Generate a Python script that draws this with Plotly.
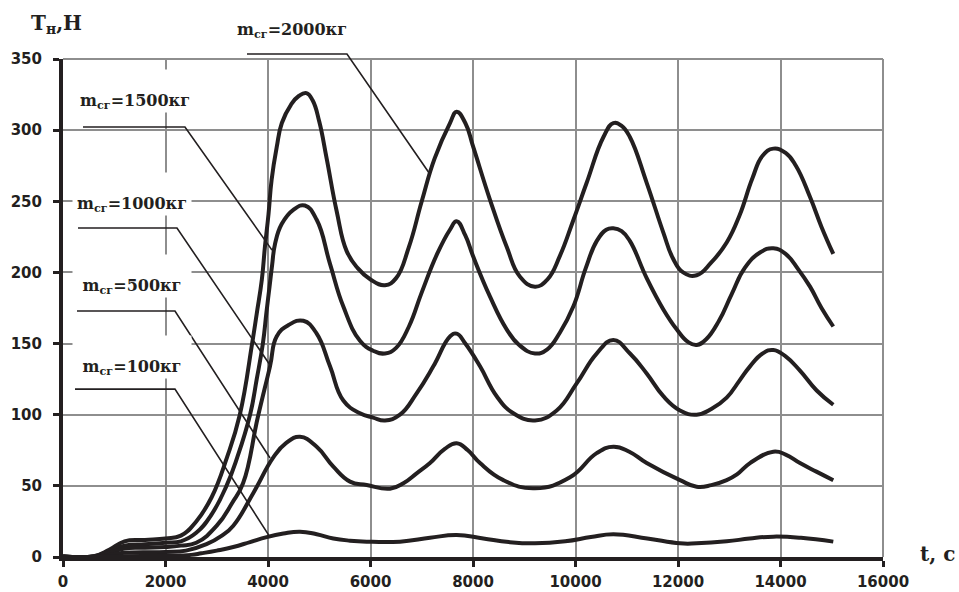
import plotly.graph_objects as go

# ---------------- data ----------------
t_2000 = [0, 600, 900, 1200, 1600, 2000, 2300, 2600, 2900, 3200, 3450, 3690, 3780, 3880, 3940, 4010,
          4070, 4170, 4270, 4450, 4600, 4750, 4870, 5000, 5145, 5340, 5535, 5750, 6000, 6283, 6500, 6750,
          7000, 7250, 7551, 7681, 7850, 8006, 8332, 8657, 8917, 9210, 9450, 9700, 9950, 10218, 10543,
          10738, 10900, 11063, 11389, 11714, 11900, 12100, 12364, 12650, 12950, 13200, 13450, 13650,
          13860, 14100, 14300, 14576, 14800, 15030]
v_2000 = [0.5, 0.5, 5, 11, 12, 13, 15, 25, 42, 70, 100, 150, 171, 195, 218, 241,
          265, 288, 305, 318, 324, 326, 321, 306, 280, 243, 215, 203, 195, 191, 196, 218,
          250, 280, 305, 313, 305, 288, 251, 218, 197, 190, 195, 212, 236, 263, 295,
          305, 303, 295, 263, 228, 210, 200, 198, 207, 221, 240, 266, 282,
          287, 284, 275, 253, 232, 213]

t_1500 = [0, 600, 900, 1200, 1600, 2000, 2300, 2600, 2900, 3190, 3400, 3650, 3780, 3900, 3970, 4030,
          4080, 4137, 4267, 4494, 4720, 4950, 5210, 5470, 5795, 6050, 6283, 6500, 6750, 7000, 7300,
          7550, 7681, 7850, 8006, 8332, 8657, 8900, 9210, 9450, 9700, 9957, 10200, 10413, 10600,
          10738, 10900, 11063, 11389, 11714, 11974, 12200, 12364, 12550, 12800, 13050, 13300, 13600,
          13860, 14100, 14350, 14576, 14800, 15030]
v_1500 = [0.4, 0.4, 4, 8, 9, 10, 11, 17, 30, 50, 70, 100, 125, 150, 172, 190,
          205, 220, 234, 244, 247, 237, 206, 176, 152, 145, 143, 147, 162, 186, 213,
          230, 236, 226, 211, 183, 160, 149, 143, 146, 158, 176, 203, 222, 230,
          231, 229, 222, 196, 174, 160, 151, 149, 153, 166, 185, 203, 214,
          217, 213, 202, 190, 175, 162]

t_1000 = [0, 600, 900, 1200, 1600, 2000, 2300, 2600, 3000, 3300, 3515, 3800, 4039, 4169, 4400, 4690,
          4950, 5210, 5470, 5795, 6050, 6283, 6575, 6900, 7226, 7551, 7681, 7850, 8137, 8462, 8787,
          9210, 9633, 10023, 10413, 10738, 11063, 11389, 11714, 12039, 12364, 12650, 12950, 13200,
          13405, 13650, 13860, 14100, 14380, 14706, 15030]
v_1000 = [0.3, 0.3, 3, 6, 6.5, 7, 8, 10, 22, 38, 52, 98, 134, 155, 163, 166,
          157, 134, 110, 101, 98, 96, 100, 115, 134, 155, 157, 150, 134, 113, 101,
          96, 103, 122, 143, 152.5, 143, 129, 113, 103, 100, 104, 112, 124,
          134, 143, 145.5, 141, 131, 117, 107]

t_500 = [0, 600, 900, 1200, 2000, 2400, 2800, 3100, 3323, 3714, 4104, 4350, 4624, 4950, 5275, 5600,
         5925, 6381, 6650, 6900, 7161, 7450, 7681, 7900, 8137, 8592, 9210, 9893, 10413, 10738,
         11050, 11389, 12039, 12364, 12650, 12950, 13150, 13405, 13860, 14100, 14380, 14700, 15030]
v_500 = [0.2, 0.2, 1.5, 3, 3.5, 4.5, 9, 15, 22, 45, 70, 80, 84.5, 77.5, 63.5, 53,
         50.6, 48, 52, 58.8, 66, 76, 80, 75, 66, 54, 48.3, 56, 73, 77.5,
         74, 66, 54, 49.4, 50.5, 54, 58, 66, 74, 72, 66, 60, 54]

t_100 = [0, 600, 900, 1200, 2000, 2500, 2700, 3000, 3323, 3650, 3975, 4300, 4624, 4950, 5275, 5600,
         5925, 6575, 7161, 7681, 8200, 8700, 9210, 9800, 10300, 10738, 11400, 12039, 12364, 12950,
         13400, 13860, 14400, 15030]
v_100 = [0, 0, 0.3, 0.6, 0.8, 1.5, 2.6, 4.5, 7, 10.5, 14, 16.5, 17.8, 16, 13, 11.5,
         10.8, 10.8, 13.5, 15.5, 13, 10.5, 9.6, 11, 14, 16, 13, 9.6, 9.6, 11,
         13, 14.3, 13.5, 10.8]

series_names = ["2000", "1500", "1000", "500", "100"]
series_t = [t_2000, t_1500, t_1000, t_500, t_100]
series_v = [v_2000, v_1500, v_1000, v_500, v_100]

x_ticks = [0, 2000, 4000, 6000, 8000, 10000, 12000, 14000, 16000]
y_ticks = [0, 50, 100, 150, 200, 250, 300, 350]
X_MAX, Y_MAX = 16000, 350

# ---------------- figure ----------------
CURVE = "#231f20"
GRID = "#8e8e8e"

fig = go.Figure()
for name, t, v in zip(series_names, series_t, series_v):
    fig.add_trace(go.Scatter(x=t, y=v, mode="lines", name=name,
                             line=dict(color=CURVE, width=4, shape="spline", smoothing=1.3),
                             hoverinfo="skip", showlegend=False))

tickfont = dict(family="DejaVu Sans", size=15, color=CURVE, weight="bold")

fig.update_layout(
    width=959, height=592,
    margin=dict(l=63, r=76, t=59, b=35),
    paper_bgcolor="white", plot_bgcolor="white",
    showlegend=False,
    xaxis=dict(range=[0, X_MAX], tickvals=x_ticks, ticktext=[str(v) for v in x_ticks],
               showgrid=True, gridcolor=GRID, gridwidth=2, zeroline=False,
               showline=True, linecolor=CURVE, linewidth=4,
               ticks="outside", ticklen=6, tickwidth=3, tickcolor=CURVE,
               tickfont=tickfont, ticklabelstandoff=2, automargin=False, fixedrange=True),
    yaxis=dict(range=[0, Y_MAX], tickvals=y_ticks, ticktext=[str(v) for v in y_ticks],
               showgrid=True, gridcolor=GRID, gridwidth=2, zeroline=False,
               showline=True, linecolor=CURVE, linewidth=4,
               ticks="outside", ticklen=6, tickwidth=3, tickcolor=CURVE,
               tickfont=tickfont, ticklabelstandoff=8, automargin=False, fixedrange=True),
)

# frame gridlines at the top and right edges
fig.add_shape(type="line", xref="paper", yref="paper", x0=0, x1=1, y0=1, y1=1,
              line=dict(color=GRID, width=2), layer="below")
fig.add_shape(type="line", xref="paper", yref="paper", x0=1, x1=1, y0=0, y1=1,
              line=dict(color=GRID, width=2), layer="below")

# ---------------- labels with leader lines ----------------
def px(t):
    return t / X_MAX

def py(v):
    return v / Y_MAX

label_font = dict(family="DejaVu Serif", size=16, color=CURVE, weight="bold")

# (mass, text x, box-bottom y, leader polyline points in data units)
labels = [
    ("2000", 4468, 362, [(3590, 353.5), (5541, 353.5), (7161, 269)]),
    ("1500", 1405, 312, [(390, 302.2), (2380, 302.2), (4078, 215.7)]),
    ("1000", 1346, 239.6, [(293, 231.2), (2224, 231.2), (4039, 134.9)]),
    ("500", 1346, 182, [(273, 172.9), (2185, 172.9), (4039, 69.6)]),
    ("100", 1346, 125, [(234, 118), (2185, 118), (4039, 14)]),
]

for mass, lx, ly, pts in labels:
    path = "M " + " L ".join(f"{px(a):.5f},{py(b):.5f}" for a, b in pts)
    fig.add_shape(type="path", path=path, xref="paper", yref="paper",
                  line=dict(color=CURVE, width=1.6), layer="above")
    fig.add_annotation(x=px(lx), y=py(ly), xref="paper", yref="paper",
                       text=f"m<sub>сг</sub>={mass}кг",
                       showarrow=False, font=label_font,
                       xanchor="center", yanchor="bottom",
                       bgcolor="white" if mass != "2000" else "rgba(0,0,0,0)",
                       width=118, height=42, valign="bottom", borderpad=0)

# axis titles
title_font = dict(family="DejaVu Serif", size=20, color=CURVE, weight="bold")
fig.add_annotation(x=-0.008, y=1.07, xref="paper", yref="paper", text="T<sub>н</sub>,Н",
                   showarrow=False, font=title_font, xanchor="center", yanchor="middle")
fig.add_annotation(x=1.066, y=0.006, xref="paper", yref="paper", text="t, с",
                   showarrow=False, font=title_font, xanchor="center", yanchor="middle")

fig.write_html("out.html")
